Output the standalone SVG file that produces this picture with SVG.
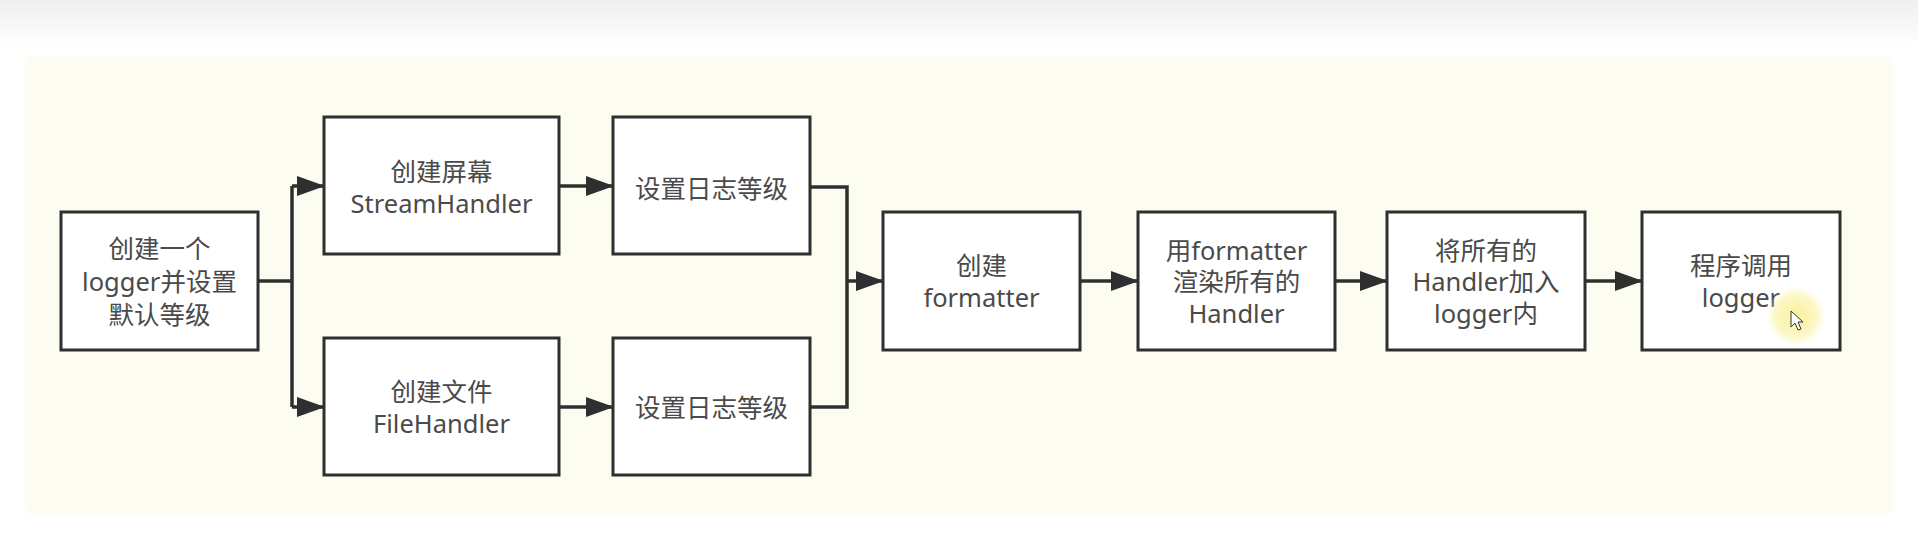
<svg xmlns="http://www.w3.org/2000/svg" width="1918" height="557" viewBox="0 0 1918 557">
  <defs>
    <linearGradient id="topfade" x1="0" y1="0" x2="0" y2="1">
      <stop offset="0" stop-color="#efefef"/>
      <stop offset="1" stop-color="#ffffff"/>
    </linearGradient>
    <radialGradient id="glow" cx="0.5" cy="0.5" r="0.5">
      <stop offset="0" stop-color="#f7f08a" stop-opacity="0.9"/>
      <stop offset="0.7" stop-color="#f9f3a0" stop-opacity="0.6"/>
      <stop offset="1" stop-color="#fcf8c0" stop-opacity="0"/>
    </radialGradient>
    <filter id="soft" x="-2%" y="-5%" width="104%" height="110%">
      <feGaussianBlur stdDeviation="2"/>
    </filter>
    <marker id="arrow" viewBox="0 0 28 20" markerUnits="userSpaceOnUse" markerWidth="28" markerHeight="20" refX="27" refY="10" orient="auto">
      <path d="M0,0 L28,10 L0,20 Z" fill="#2f2f2f"/>
    </marker>
    <style>
      .box { fill: #ffffff; stroke: #2f2f2f; stroke-width: 3; }
      .lbl { font-family: "Noto Sans", "Noto Sans CJK SC", sans-serif; font-size: 25.5px; fill: #4a4a4a; text-anchor: middle; dominant-baseline: central; }
      .wire { fill: none; stroke: #2f2f2f; stroke-width: 3.5; }
      .wa { fill: none; stroke: #2f2f2f; stroke-width: 3.5; marker-end: url(#arrow); }
    </style>
  </defs>

  <rect x="0" y="0" width="1918" height="557" fill="#ffffff"/>
  <rect x="0" y="0" width="1918" height="45" fill="url(#topfade)"/>
  <rect x="25" y="57" width="1868" height="456" fill="#fcfcf0" filter="url(#soft)"/>

  <g id="connectors">
    <path class="wire" d="M258,281 H292 M292,186 V407"/>
    <path class="wa" d="M292,186 H324"/>
    <path class="wa" d="M292,407 H324"/>
    <path class="wa" d="M559,186 H613"/>
    <path class="wa" d="M559,407 H613"/>
    <path class="wire" d="M810,187 H847 V407 H810"/>
    <path class="wa" d="M847,281 H883"/>
    <path class="wa" d="M1080,281 H1138"/>
    <path class="wa" d="M1335,281 H1387"/>
    <path class="wa" d="M1585,281 H1642"/>
  </g>

  <g id="node-create-logger">
    <rect class="box" x="61" y="212" width="197" height="138"/>
    <text class="lbl" x="159.5" y="248">创建一个</text>
    <text class="lbl" x="159.5" y="281">logger并设置</text>
    <text class="lbl" x="159.5" y="314">默认等级</text>
  </g>

  <g id="node-stream-handler">
    <rect class="box" x="324" y="117" width="235" height="137"/>
    <text class="lbl" x="441.5" y="171">创建屏幕</text>
    <text class="lbl" x="441.5" y="203">StreamHandler</text>
  </g>

  <g id="node-file-handler">
    <rect class="box" x="324" y="338" width="235" height="137"/>
    <text class="lbl" x="441.5" y="391">创建文件</text>
    <text class="lbl" x="441.5" y="423">FileHandler</text>
  </g>

  <g id="node-level-top">
    <rect class="box" x="613" y="117" width="197" height="137"/>
    <text class="lbl" x="711.5" y="188">设置日志等级</text>
  </g>

  <g id="node-level-bottom">
    <rect class="box" x="613" y="338" width="197" height="137"/>
    <text class="lbl" x="711.5" y="407">设置日志等级</text>
  </g>

  <g id="node-create-formatter">
    <rect class="box" x="883" y="212" width="197" height="138"/>
    <text class="lbl" x="981.5" y="265">创建</text>
    <text class="lbl" x="981.5" y="297">formatter</text>
  </g>

  <g id="node-render-handlers">
    <rect class="box" x="1138" y="212" width="197" height="138"/>
    <text class="lbl" x="1236.5" y="250">用formatter</text>
    <text class="lbl" x="1236.5" y="281">渲染所有的</text>
    <text class="lbl" x="1236.5" y="313">Handler</text>
  </g>

  <g id="node-add-handlers">
    <rect class="box" x="1387" y="212" width="198" height="138"/>
    <text class="lbl" x="1486" y="250">将所有的</text>
    <text class="lbl" x="1486" y="281">Handler加入</text>
    <text class="lbl" x="1486" y="313">logger内</text>
  </g>

  <g id="node-call-logger">
    <rect class="box" x="1642" y="212" width="198" height="138"/>
    <text class="lbl" x="1741" y="265">程序调用</text>
    <text class="lbl" x="1741" y="297">logger</text>
    <circle cx="1796" cy="316" r="30" fill="url(#glow)"/>
    <path d="M1791,311 L1791,327 L1795,323 L1798,330 L1801,329 L1798,322 L1803,322 Z" fill="#ffffff" stroke="#333333" stroke-width="1"/>
  </g>
</svg>
